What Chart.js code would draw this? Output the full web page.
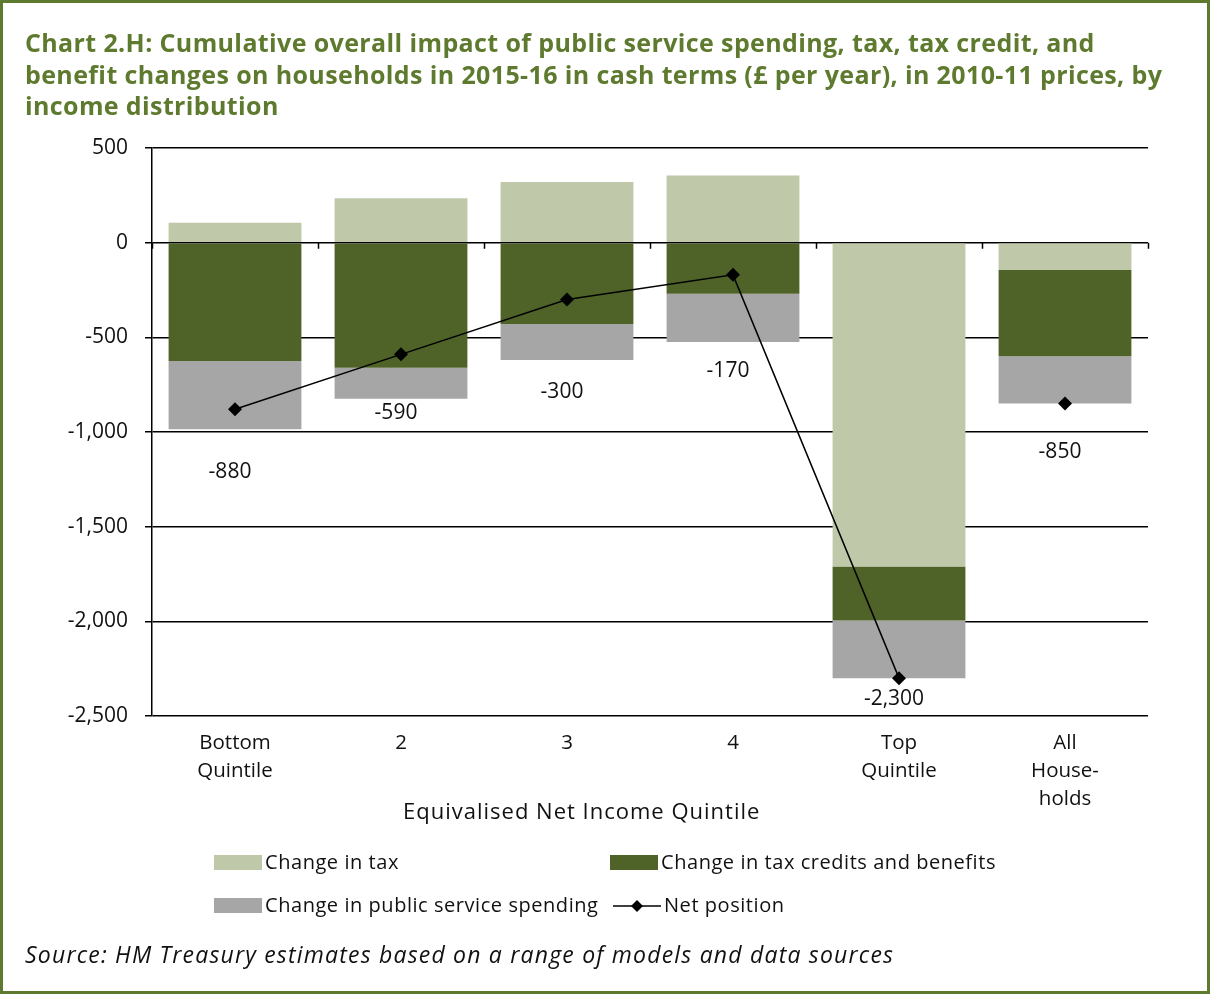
<!DOCTYPE html>
<html>
<head>
<meta charset="utf-8">
<script src="https://cdn.jsdelivr.net/npm/chart.js@4.4.1/dist/chart.umd.min.js"></script>
<style>
  body { margin: 0; background: #fff; font-family: "Open Sans", sans-serif; }
  #wrap { position: relative; width: 1210px; height: 994px; overflow: hidden; }
  #frame { position: absolute; left: 0; top: 0; width: 1210px; height: 994px; box-sizing: border-box;
           border: 3px solid #5E7A2E; pointer-events: none; }
  #chart { position: absolute; left: 0; top: 0; }
  .title { position: absolute; left: 25px; top: 27px; color: #5E7A2E; font-weight: 700;
           font-size: 25px; letter-spacing: 0.38px; line-height: 31.5px; white-space: nowrap; }
  .axis-title { position: absolute; left: 403px; top: 795px; font-size: 22px; letter-spacing: 1px; color: #111; white-space: nowrap; }
  .legend-item { position: absolute; font-size: 20px; letter-spacing: 0.55px; color: #111; white-space: nowrap; line-height: 24px; }
  .swatch { display: inline-block; width: 48px; height: 15px; vertical-align: -1px; margin-right: 3px; }
  .source { position: absolute; left: 25px; top: 938px; font-style: italic; font-size: 23px; letter-spacing: 1.2px; color: #111; white-space: nowrap; }
</style>
</head>
<body>
<div id="wrap">
  <canvas id="chart" width="1210" height="994"></canvas>
  <div class="title">Chart 2.H: Cumulative overall impact of public service spending, tax, tax credit, and<br>benefit changes on households in 2015-16 in cash terms (£ per year), in 2010-11 prices, by<br>income distribution</div>
  <div class="axis-title">Equivalised Net Income Quintile</div>
  <div class="legend-item" style="left:214px; top:850px;"><span class="swatch" style="background:#BFC8A9"></span>Change in tax</div>
  <div class="legend-item" style="left:610px; top:850px;"><span class="swatch" style="background:#4F6228"></span>Change in tax credits and benefits</div>
  <div class="legend-item" style="left:214px; top:893px;"><span class="swatch" style="background:#A6A6A6"></span>Change in public service spending</div>
  <div class="legend-item" style="left:613px; top:893px;"><canvas id="netKey" width="48" height="16" style="vertical-align:-2px; margin-right:3px;"></canvas>Net position</div>
  <div class="source">Source: HM Treasury estimates based on a range of models and data sources</div>
  <div id="frame"></div>
</div>
<script>
// Quintiles along the x axis
const categories = [['Bottom', 'Quintile'], '2', '3', '4', ['Top', 'Quintile'], ['All', 'House-', 'holds']];

// £ per year, 2010-11 prices
const taxChange = [105, 235, 320, 355, -1710, -145];
const creditsChange = [-625, -660, -430, -270, -285, -455];
const publicServiceChange = [-360, -165, -190, -255, -305, -250];
const netPosition = [-880, -590, -300, -170, -2300, -850];

const yTicks = [500, 0, -500, -1000, -1500, -2000, -2500];

// how far below each diamond its value label sits (px)
const netLabelOffsets = [63, 59, 93, 96, 21, 48];

const fmt = v => v.toLocaleString('en-GB');

// small tick marks hanging off the zero line between categories
const zeroTicks = {
  id: 'zeroTicks',
  afterDatasetsDraw(chart) {
    const { ctx, scales: { x, y } } = chart;
    const y0 = y.getPixelForValue(0);
    const step = (x.right - x.left) / categories.length;
    ctx.save();
    ctx.strokeStyle = '#000';
    ctx.lineWidth = 1.5;
    ctx.beginPath();
    for (let i = 0; i <= categories.length; i++) {
      const px = Math.round(x.left + i * step) + 0.5;
      ctx.moveTo(px, y0);
      ctx.lineTo(px, y0 + 6);
    }
    ctx.stroke();
    ctx.restore();
  }
};

// value labels under the net position markers
const netLabels = {
  id: 'netLabels',
  afterDatasetsDraw(chart) {
    const { ctx } = chart;
    const meta = chart.getDatasetMeta(3);
    ctx.save();
    ctx.font = '21px "Open Sans", sans-serif';
    ctx.fillStyle = '#111';
    ctx.textAlign = 'center';
    ctx.textBaseline = 'middle';
    meta.data.forEach((pt, i) => {
      ctx.fillText(fmt(netPosition[i]), pt.x - 5, pt.y + netLabelOffsets[i]);
    });
    ctx.restore();
  }
};

new Chart(document.getElementById('chart'), {
  type: 'bar',
  data: {
    labels: categories,
    datasets: [
      { label: 'Change in tax', data: taxChange, backgroundColor: '#BFC8A9', order: 1 },
      { label: 'Change in tax credits and benefits', data: creditsChange, backgroundColor: '#4F6228', order: 1 },
      { label: 'Change in public service spending', data: publicServiceChange, backgroundColor: '#A6A6A6', order: 1 },
      {
        type: 'line', label: 'Net position', data: netPosition, stack: 'net', order: 0,
        borderColor: '#000', borderWidth: 1.5, backgroundColor: '#000',
        pointStyle: 'rectRot', pointRadius: 7, pointBorderWidth: 0, tension: 0,
        // the all-households point stands on its own, not joined to the quintiles
        segment: { borderColor: c => c.p1DataIndex === categories.length - 1 ? 'rgba(0,0,0,0)' : '#000' }
      }
    ]
  },
  options: {
    responsive: false,
    animation: false,
    layout: { padding: { left: 0, top: 148, right: 62, bottom: 0 } },
    datasets: { bar: { barPercentage: 0.8, categoryPercentage: 1 } },
    plugins: { legend: { display: false }, tooltip: { enabled: false } },
    scales: {
      x: {
        stacked: true,
        grid: { display: false },
        border: { display: false },
        ticks: { color: '#111', padding: 5, font: { size: 20.5, family: '"Open Sans", sans-serif', lineHeight: 1.37 }, maxRotation: 0 },
        afterFit: s => { s.height = 278; }
      },
      y: {
        stacked: true,
        min: -2500, max: 500,
        afterBuildTicks: s => { s.ticks = yTicks.map(v => ({ value: v })); },
        grid: { color: '#000', lineWidth: 1.5, tickLength: 7 },
        border: { color: '#000', width: 1.5 },
        ticks: { color: '#111', padding: 17, font: { size: 21, family: '"Open Sans", sans-serif' }, callback: v => fmt(v) },
        afterFit: s => { s.width = 152; }
      }
    }
  },
  plugins: [zeroTicks, netLabels]
});

// little line-and-diamond key for the net position entry
const k = document.getElementById('netKey').getContext('2d');
k.strokeStyle = '#000';
k.lineWidth = 1.5;
k.beginPath(); k.moveTo(0, 8); k.lineTo(48, 8); k.stroke();
k.fillStyle = '#000';
k.beginPath(); k.moveTo(24, 2); k.lineTo(30, 8); k.lineTo(24, 14); k.lineTo(18, 8); k.closePath(); k.fill();
</script>
</body>
</html>
